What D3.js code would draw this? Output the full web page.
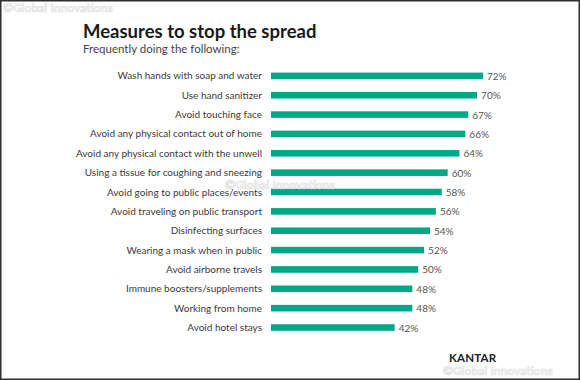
<!DOCTYPE html>
<html><head><meta charset="utf-8">
<script src="https://cdn.jsdelivr.net/npm/d3@7/dist/d3.min.js"></script>
<style>
html,body{margin:0;padding:0;background:#fff;}
svg{display:block;}
text{font-family:Lato,"Noto Sans",sans-serif;}
</style></head>
<body>
<script>
const categories = [
  "Wash hands with soap and water",
  "Use hand sanitizer",
  "Avoid touching face",
  "Avoid any physical contact out of home",
  "Avoid any physical contact with the unwell",
  "Using a tissue for coughing and sneezing",
  "Avoid going to public places/events",
  "Avoid traveling on public transport",
  "Disinfecting surfaces",
  "Wearing a mask when in public",
  "Avoid airborne travels",
  "Immune boosters/supplements",
  "Working from home",
  "Avoid hotel stays"
];
const values = [72, 70, 67, 66, 64, 60, 58, 56, 54, 52, 50, 48, 48, 42];
const title = "Measures to stop the spread";
const subtitle = "Frequently doing the following:";
const watermark = "\u00A9Global Innovations";

const W = 580, H = 380;
const svg = d3.select("body").append("svg").attr("width", W).attr("height", H);

svg.append("rect").attr("x", 0.75).attr("y", 0.75).attr("width", W - 1.5).attr("height", H - 1.5)
  .attr("fill", "#fff").attr("stroke", "#2e2e2e").attr("stroke-width", 1.5);

svg.append("text").attr("x", 83).attr("y", 38).text(title)
  .attr("font-size", 18.5).attr("font-weight", 700).attr("fill", "#1a1a1a");
svg.append("text").attr("x", 83).attr("y", 53).text(subtitle)
  .attr("font-size", 11.5).attr("fill", "#444");

const x = d3.scaleLinear().domain([0, 72]).range([271, 483]);
const y = d3.scaleBand().domain(categories).range([66.2, 337.2]).paddingInner(0.66).paddingOuter(0.33);

svg.append("g").selectAll("rect").data(values).join("rect")
  .attr("x", x(0)).attr("y", (d, i) => y(categories[i]))
  .attr("width", d => x(d) - x(0)).attr("height", y.bandwidth())
  .attr("fill", "#00a886");

svg.append("g").selectAll("text").data(categories).join("text")
  .attr("x", 262).attr("y", d => y(d) + y.bandwidth() / 2).attr("dy", "0.35em")
  .attr("text-anchor", "end").attr("font-size", 10).attr("fill", "#3a3a3a").text(d => d);

svg.append("g").selectAll("text").data(values).join("text")
  .attr("x", d => x(d) + 4).attr("y", (d, i) => y(categories[i]) + y.bandwidth() / 2).attr("dy", "0.4em")
  .attr("font-size", 10).attr("fill", "#555").text(d => d + "%");

svg.append("text").attr("x", 449).attr("y", 362).text("KANTAR")
  .attr("font-size", 11.5).attr("font-weight", 700).attr("letter-spacing", 0.2).attr("fill", "#222");

const wm = [[3, 12], [225, 189], [443, 375]];
svg.append("g").selectAll("text").data(wm).join("text")
  .attr("x", d => d[0]).attr("y", d => d[1]).text(watermark)
  .attr("font-size", 12).attr("font-weight", 700).attr("fill", "#f4f4f4")
  .attr("stroke", "#dadada").attr("stroke-width", 0.6).attr("opacity", 0.85);
</script>
</body></html>
